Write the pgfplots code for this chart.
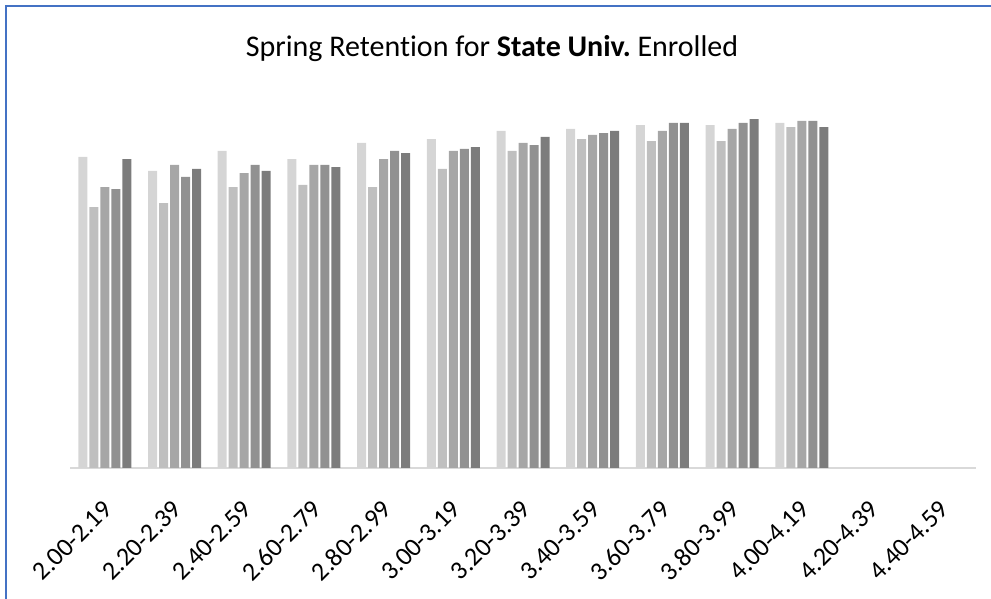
\documentclass[border=0pt]{standalone}
\usepackage{pgfplots}
\pgfplotsset{compat=1.18}
\usepackage{fontspec}
\setmainfont[Ligatures=NoCommon]{Carlito}
\frenchspacing
\definecolor{borderblue}{HTML}{4472C4}
\definecolor{axisgray}{HTML}{D9D9D9}
\definecolor{s1}{HTML}{D5D5D5}
\definecolor{s2}{HTML}{BFBFBF}
\definecolor{s3}{HTML}{A6A6A6}
\definecolor{s4}{HTML}{919191}
\definecolor{s5}{HTML}{7C7C7C}
\begin{document}
\begin{tikzpicture}[x=1pt,y=1pt]
\useasboundingbox (0,0) rectangle (991,599);
\draw[borderblue, line width=2pt] (6,0) -- (6,593) -- (991,593);
\node[anchor=base, font=\fontsize{30}{36}\selectfont] at (492,542) {Spring Retention for \textbf{State Univ.} Enrolled};
\begin{axis}[
  at={(70pt,131pt)}, anchor=south west,
  scale only axis, width=906pt, height=378pt,
  xmin=-0.5, xmax=12.5, ymin=0, ymax=1,
  axis y line=none, axis x line*=bottom,
  x axis line style={color=axisgray, line width=1.2pt, -},
  xtick={0,...,12},
  xticklabels={2.00-2.19,2.20-2.39,2.40-2.59,2.60-2.79,2.80-2.99,3.00-3.19,3.20-3.39,3.40-3.59,3.60-3.79,3.80-3.99,4.00-4.19,4.20-4.39,4.40-4.59},
  major tick length=0pt,
  xticklabel style={font=\fontsize{26}{31}\selectfont, xshift=3pt, yshift=-37pt, rotate=45, anchor=east, inner sep=0pt},
  ybar=2pt, bar width=9pt,
  every axis plot/.append style={draw=none},
  clip=false,
]
\addplot[fill=s1] coordinates {(0,0.823) (1,0.786) (2,0.839) (3,0.817) (4,0.860) (5,0.870) (6,0.892) (7,0.897) (8,0.907) (9,0.907) (10,0.913)};
\addplot[fill=s2] coordinates {(0,0.690) (1,0.701) (2,0.743) (3,0.749) (4,0.743) (5,0.791) (6,0.839) (7,0.870) (8,0.865) (9,0.865) (10,0.902)};
\addplot[fill=s3] coordinates {(0,0.743) (1,0.802) (2,0.780) (3,0.802) (4,0.817) (5,0.839) (6,0.860) (7,0.881) (8,0.892) (9,0.897) (10,0.918)};
\addplot[fill=s4] coordinates {(0,0.738) (1,0.770) (2,0.802) (3,0.802) (4,0.839) (5,0.844) (6,0.854) (7,0.886) (8,0.913) (9,0.913) (10,0.918)};
\addplot[fill=s5] coordinates {(0,0.817) (1,0.791) (2,0.786) (3,0.796) (4,0.833) (5,0.849) (6,0.876) (7,0.892) (8,0.913) (9,0.923) (10,0.902)};
\end{axis}
\end{tikzpicture}
\end{document}
